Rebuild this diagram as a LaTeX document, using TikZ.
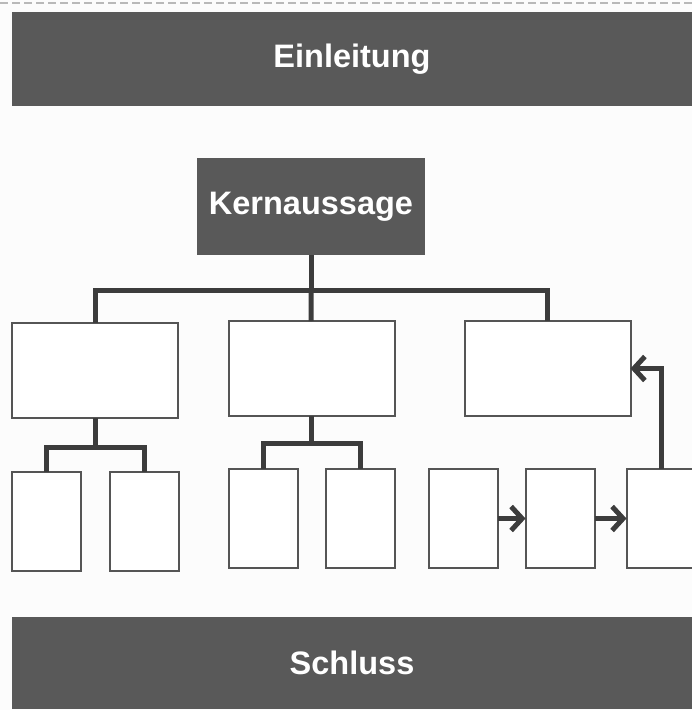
\documentclass[tikz,border=0pt]{standalone}
\usepackage{fontspec}
\setsansfont{Liberation Sans}
\usepackage{tikz}
\usetikzlibrary{positioning,arrows.meta}
\definecolor{bargray}{HTML}{595959}
\definecolor{linegray}{HTML}{3C3C3C}
\definecolor{boxgray}{HTML}{555555}
\definecolor{paper}{HTML}{FCFCFC}

\begin{document}
\begin{tikzpicture}
                [x=1pt,y=-1pt,node distance=28pt,
                bar/.style={fill=bargray,text=white,inner sep=0pt,
                  font=\sffamily\bfseries\fontsize{32.5}{32.5}\selectfont},
                mid/.style={rectangle,draw=boxgray,line width=2pt,fill=white,
                  minimum width=166pt,minimum height=95pt,inner sep=0pt,outer sep=0pt},
                leaf/.style={rectangle,draw=boxgray,line width=2pt,fill=white,
                  minimum width=69pt,minimum height=99pt,inner sep=0pt,outer sep=0pt},
                conn/.style={draw=linegray,line width=5pt},
                flow/.style={conn,-{Straight Barb[length=11pt,width=24pt]}}]
                \clip (0,0) rectangle (692,710);
                \fill[paper] (0,0) rectangle (692,710);
                \draw[gray!55,line width=1.5pt,dash pattern=on 8pt off 4pt] (0,3) -- (692,3);
                % Balken oben und unten
                \node[bar,minimum width=680pt,minimum height=94pt] (einl) at (352,59){Einleitung};
                \node[bar,minimum width=680pt,minimum height=92pt] (schl) at (352,663){Schluss};
                \node[bar,minimum width=228pt,minimum height=97pt] (kern) at (311,206.5){Kernaussage};
                % zweite Ebene
                \node[mid] (sa) at (95,370.5){};
                \node[mid] (sb) at (311.5,368.5){};
                \node[mid] (sc) at (547.5,368.5){};
                % dritte Ebene
                \node[leaf] (a1) at (46,521.5){};
                \node[leaf] (a2)[right=29pt of a1]{};
                \node[leaf] (b1) at (263,518.5){};
                \node[leaf] (b2)[right=of b1]{};
                \node[leaf] (c1) at (463,518.5){};
                \node[leaf] (c2)[right=of c1]{};
                \node[leaf,minimum width=70pt] (c3)[right=32pt of c2]{};
                % Verbindungen
                \coordinate (jk) at (311,290);
                \coordinate (ja) at (95,447);
                \coordinate (jb) at (311.5,443);
                \draw[conn] (kern) -- (jk) -| (sa);
                \draw[conn] (jk) -| (sc);
                \draw[conn] (jk) -- (sb);
                \draw[conn] (sa) -- (ja) -| (a1);
                \draw[conn] (ja) -| (a2);
                \draw[conn] (sb) -- (jb) -| (b1);
                \draw[conn] (jb) -| (b2);
                \draw[flow] (c1) -- (c2);
                \draw[flow] (c2) -- (c3);
                \draw[flow] (c3) |- (sc);
            \end{tikzpicture}
\end{document}
